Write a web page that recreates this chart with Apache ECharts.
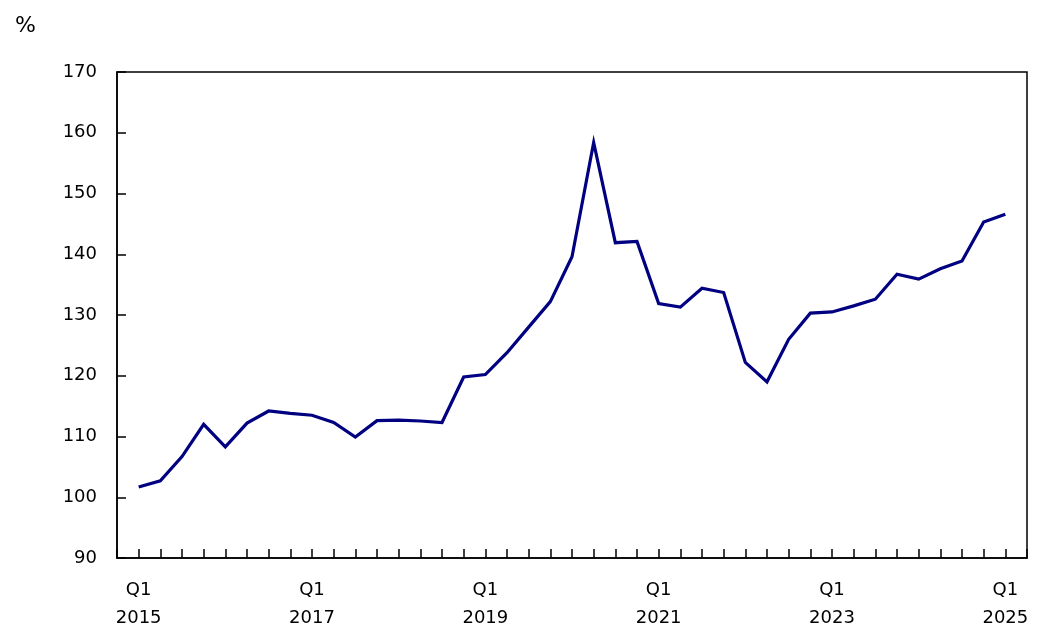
<!DOCTYPE html>
<html>
<head>
<meta charset="utf-8">
<script src="https://cdn.jsdelivr.net/npm/echarts@6/dist/echarts.min.js"></script>
<style>
html,body{margin:0;padding:0;background:#fff;}
#chart{width:1062px;height:643px;}
</style>
</head>
<body>
<div id="chart"></div>
<script>
const quarters = [
  'Q1 2015','Q2 2015','Q3 2015','Q4 2015',
  'Q1 2016','Q2 2016','Q3 2016','Q4 2016',
  'Q1 2017','Q2 2017','Q3 2017','Q4 2017',
  'Q1 2018','Q2 2018','Q3 2018','Q4 2018',
  'Q1 2019','Q2 2019','Q3 2019','Q4 2019',
  'Q1 2020','Q2 2020','Q3 2020','Q4 2020',
  'Q1 2021','Q2 2021','Q3 2021','Q4 2021',
  'Q1 2022','Q2 2022','Q3 2022','Q4 2022',
  'Q1 2023','Q2 2023','Q3 2023','Q4 2023',
  'Q1 2024','Q2 2024','Q3 2024','Q4 2024',
  'Q1 2025'
];
const values = [
  101.7, 102.7, 106.7, 112.0,
  108.3, 112.2, 114.2, 113.8,
  113.5, 112.3, 109.9, 112.6,
  112.7, 112.55, 112.3, 119.8,
  120.2, 123.8, 128.0, 132.2,
  139.6, 158.4, 141.9, 142.1,
  131.9, 131.3, 134.4, 133.7,
  122.2, 119.0, 126.0, 130.3,
  130.5, 131.5, 132.6, 136.7,
  135.9, 137.6, 138.9, 145.3,
  146.6
];
const yTicks = { min: 90, max: 170, step: 10 };
const unitLabel = '%';

const FONT = 'DejaVu Sans';
const chart = echarts.init(document.getElementById('chart'));
chart.setOption({
  animation: false,
  backgroundColor: '#fff',
  title: {
    text: unitLabel, left: 15, top: 15, padding: 0,
    textStyle: { fontFamily: FONT, fontSize: 22, fontWeight: 'normal', color: '#000' }
  },
  grid: {
    left: 117, right: 35, top: 72, bottom: 85,
    show: true, borderColor: '#000', borderWidth: 1.5, backgroundColor: 'transparent'
  },
  xAxis: {
    type: 'value',
    min: -1, max: quarters.length,
    interval: 1,
    axisLine: { show: true, onZero: false, lineStyle: { color: '#000', width: 1.5 } },
    axisTick: { show: true, inside: true, length: 9, lineStyle: { color: '#000', width: 1.5 } },
    splitLine: { show: false },
    axisLabel: {
      margin: 18,
      fontFamily: FONT, fontSize: 18, color: '#000', lineHeight: 28,
      showMinLabel: true, showMaxLabel: true,
      formatter: function (v) {
        const i = Math.round(v);
        if (i < 0 || i >= quarters.length || i % 8 !== 0) return '';
        const parts = quarters[i].split(' ');
        return parts[0] + '\n' + parts[1];
      }
    }
  },
  yAxis: {
    type: 'value',
    min: yTicks.min, max: yTicks.max, interval: yTicks.step,
    axisLine: { show: true, onZero: false, lineStyle: { color: '#000', width: 1.5 } },
    axisTick: { show: true, inside: true, length: 9, lineStyle: { color: '#000', width: 1.5 } },
    splitLine: { show: false },
    axisLabel: { margin: 20, fontFamily: FONT, fontSize: 18, color: '#000' }
  },
  series: [{
    type: 'line',
    data: values.map((v, i) => [i, v]),
    showSymbol: false,
    symbol: 'none',
    lineStyle: { color: '#000080', width: 3.2, join: 'miter' },
    itemStyle: { color: '#000080' }
  }]
});
</script>
</body>
</html>
